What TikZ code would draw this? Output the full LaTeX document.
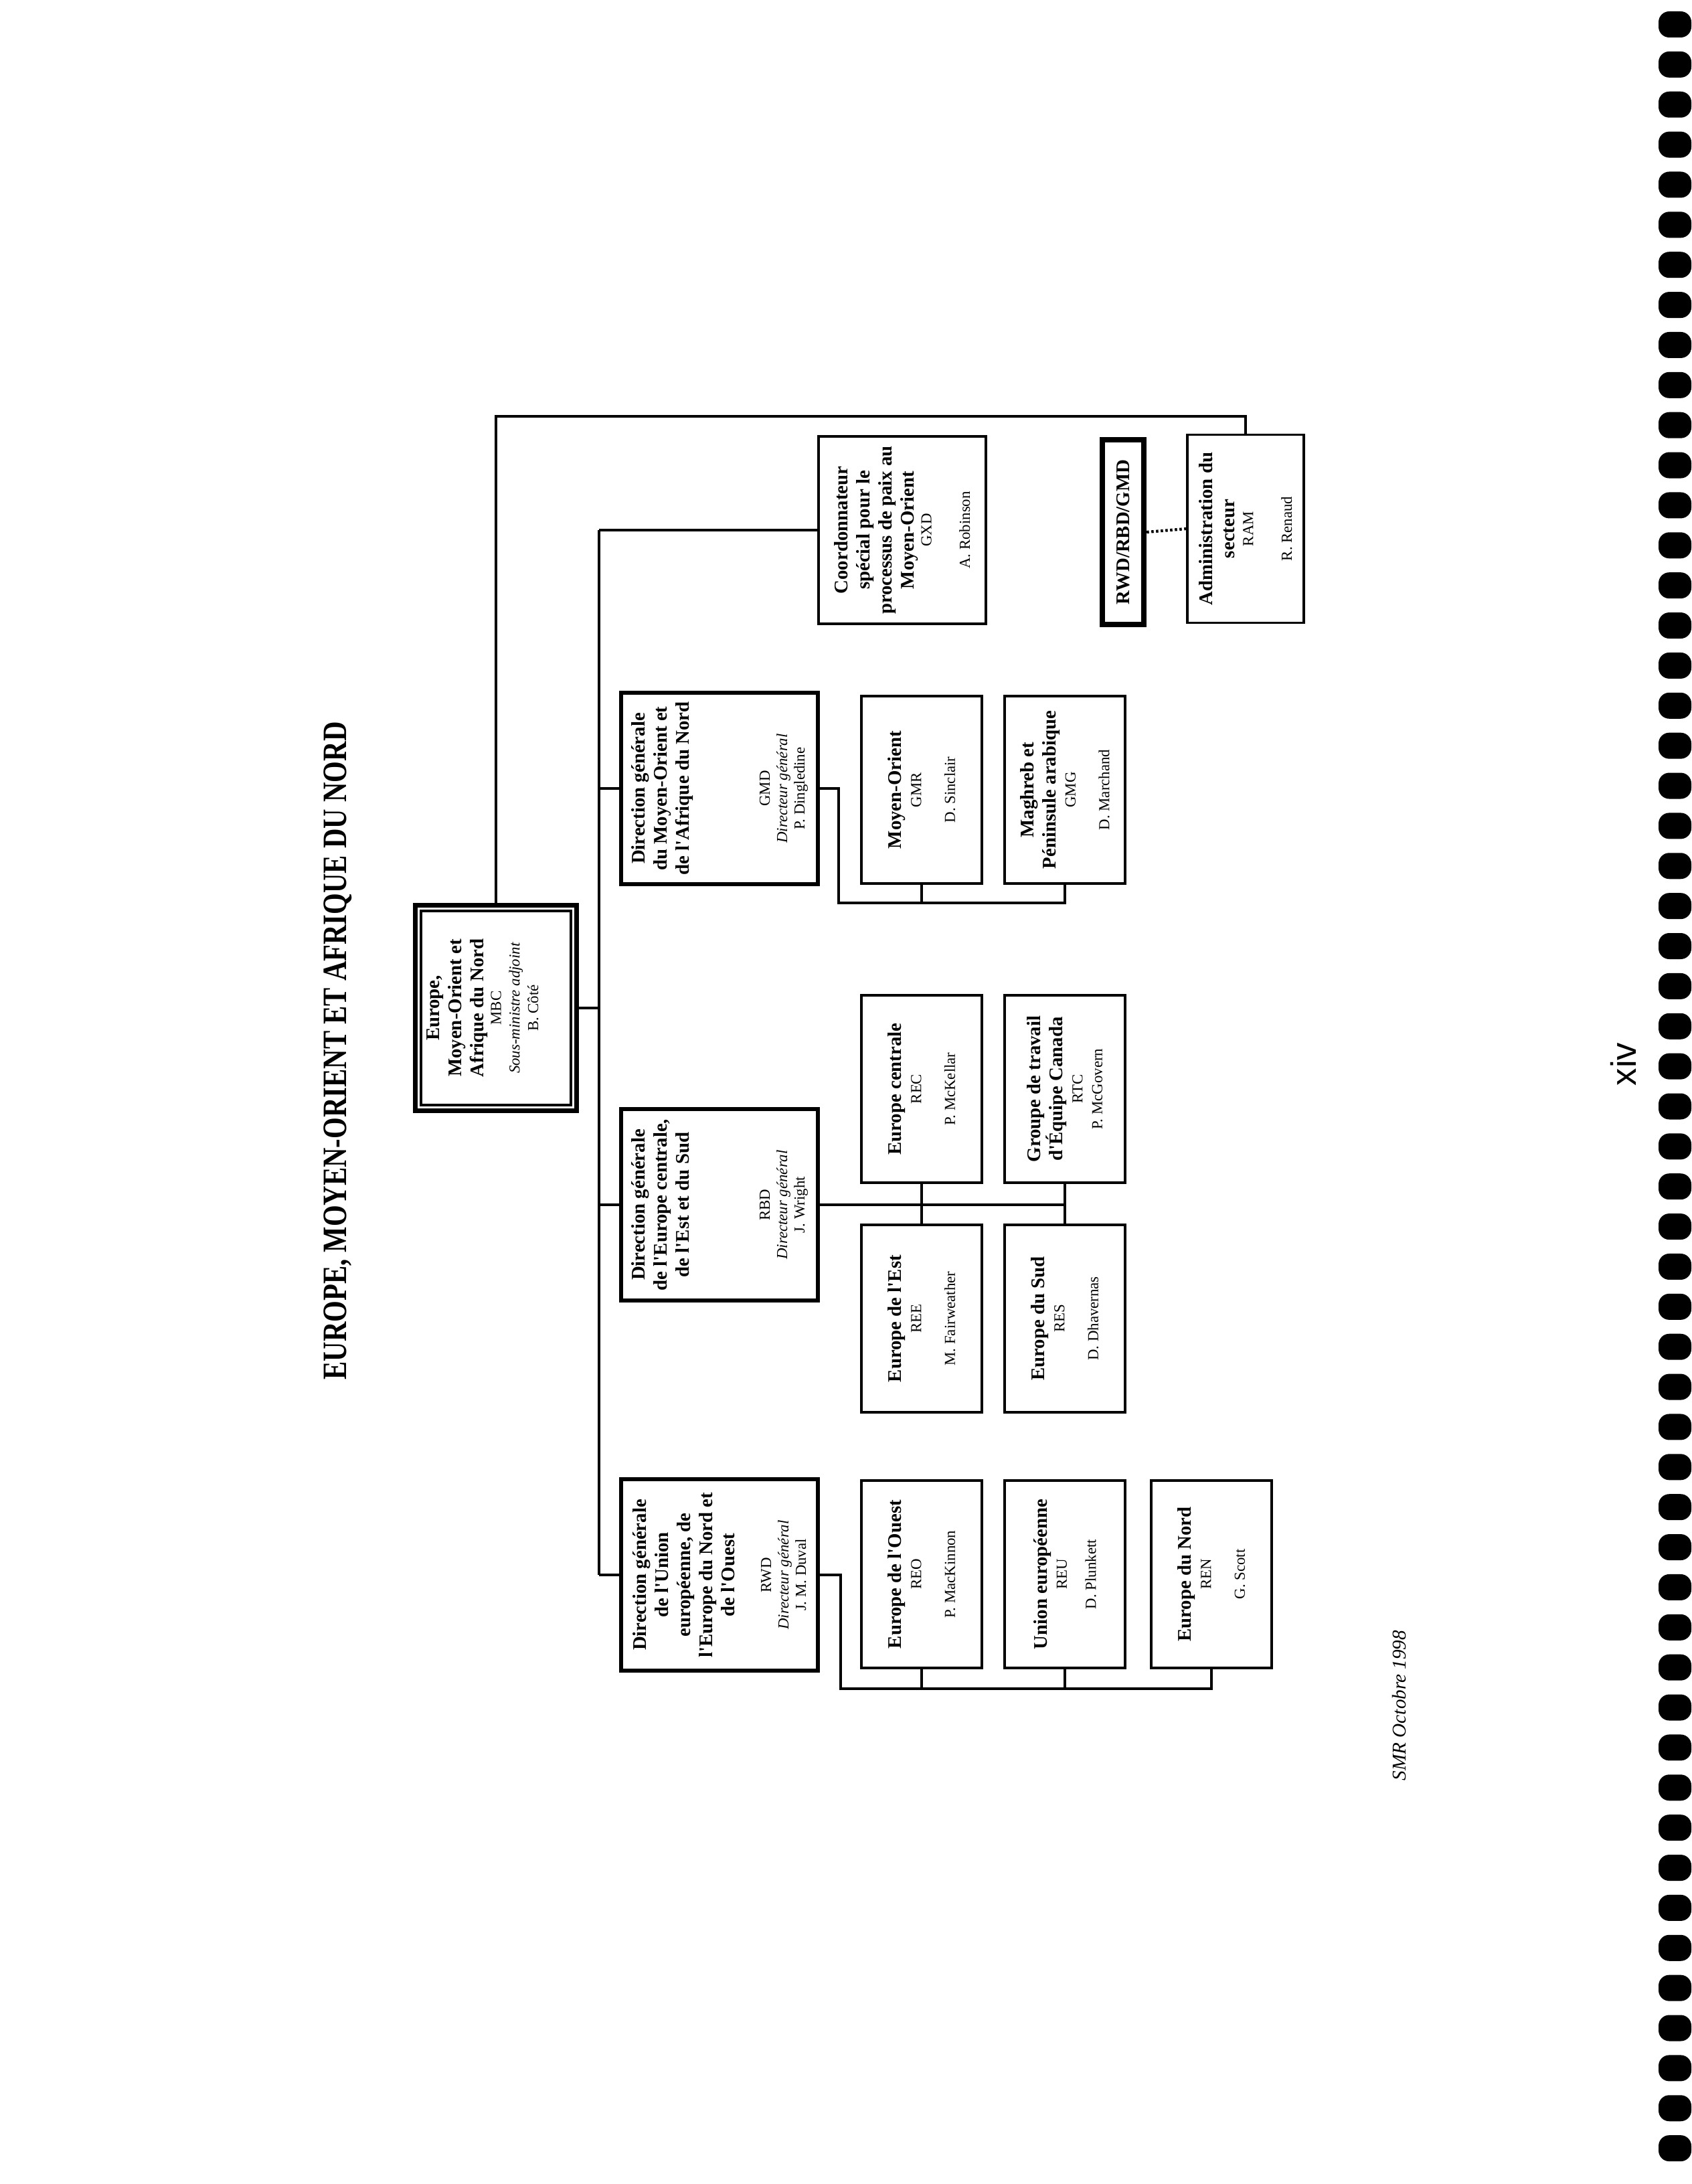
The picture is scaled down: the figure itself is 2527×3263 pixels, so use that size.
\documentclass[tikz,border=0pt]{standalone}
\usepackage{graphicx}
\usepackage{fontspec}
\setmainfont{Liberation Serif}
\newfontfamily\pagefont{Liberation Sans}
\usetikzlibrary{fit}
\newcommand{\sm}[1]{{\fontsize{6.5}{7.5}\selectfont #1}}
\newcommand{\ap}{\textquotesingle}
\begin{document}
\begin{tikzpicture}[x=0.1mm, y=-0.1mm,
    every node/.style={font=\fontsize{8.2}{9.4}\selectfont},
    box/.style={draw, rotate=90, align=center, inner sep=0pt},
    unit/.style={box, line width=1.1pt, minimum width=79.7pt, minimum height=51.2pt},
    dg/.style={box, line width=1.7pt, minimum width=81.5pt, minimum height=83.9pt},
    link/.style={line width=1pt}]
  \useasboundingbox (0,0) rectangle (2527,3263);
  \node[rotate=90, font=\fontsize{14.5}{16}\selectfont\bfseries] (title) at (505,1570)
    {\scalebox{0.8}[1]{EUROPE, MOYEN-ORIENT ET AFRIQUE DU NORD}};
  \node[box, line width=0.9pt, minimum width=82.5pt, minimum height=63.7pt] (mbc) at (741,1506)
    {\textbf{Europe,}\\ \textbf{Moyen-Orient et}\\ \textbf{Afrique du Nord}\\[-2pt]
     \sm{MBC}\\[-1.5pt] \sm{\textit{Sous-ministre adjoint}}\\[-1.5pt] \sm{B. Côté}\\[2pt] \mbox{}};
  \node[fit=(mbc), draw, line width=1.8pt, inner sep=2pt] (mbcf) {};
  \node[dg] (gmd) at (1075,1178)
    {\textbf{Direction générale}\\ \textbf{du Moyen-Orient et}\\ \textbf{de l\ap Afrique du Nord}\\[25pt]
     \sm{GMD}\\[-2pt] \sm{\textit{Directeur général}}\\[-2pt] \sm{P. Dingledine}};
  \node[dg] (rbd) at (1075,1800)
    {\textbf{Direction générale}\\ \textbf{de l\ap Europe centrale,}\\ \textbf{de l\ap Est et du Sud}\\[25pt]
     \sm{RBD}\\[-2pt] \sm{\textit{Directeur général}}\\[-2pt] \sm{J. Wright}};
  \node[dg] (rwd) at (1075,2353)
    {\textbf{Direction générale}\\ \textbf{de l\ap Union}\\ \textbf{européenne, de}\\ \textbf{l\ap Europe du Nord et}\\ \textbf{de l\ap Ouest}\\[6pt]
     \sm{RWD}\\[-2pt] \sm{\textit{Directeur général}}\\[-2pt] \sm{J. M. Duval}};
  \node[box, line width=1pt, minimum width=79.7pt, minimum height=71.1pt] (gxd) at (1348,792)
    {\textbf{Coordonnateur}\\ \textbf{spécial pour le}\\ \textbf{processus de paix au}\\ \textbf{Moyen-Orient}\\[-2pt]
     \sm{GXD}\\[7pt] \sm{A. Robinson}};
  \node[box, line width=2.4pt, minimum width=78.5pt, minimum height=17.6pt] (grp) at (1678,795)
    {\textbf{RWD/RBD/GMD}};
  \node[box, line width=1pt, minimum width=80pt, minimum height=49.5pt] (ram) at (1861,790)
    {\textbf{Administration du}\\ \textbf{secteur}\\[-1.5pt] \sm{RAM}\\[7pt] \sm{R. Renaud}};
  \node[unit] (gmr) at (1377,1180) {\textbf{Moyen-Orient}\\[-1pt] \sm{GMR}\\[5pt] \sm{D. Sinclair}};
  \node[unit] (gmg) at (1591,1180) {\textbf{Maghreb et}\\ \textbf{Péninsule arabique}\\[-1pt] \sm{GMG}\\[5pt] \sm{D. Marchand}};
  \node[unit] (rec) at (1377,1627) {\textbf{Europe centrale}\\[-1pt] \sm{REC}\\[5pt] \sm{P. McKellar}};
  \node[unit] (rtc) at (1591,1627) {\textbf{Groupe de travail}\\ \textbf{d\ap Équipe Canada}\\[-1pt] \sm{RTC}\\[-1pt] \sm{P. McGovern}};
  \node[unit] (ree) at (1377,1970) {\textbf{Europe de l\ap Est}\\[-1pt] \sm{REE}\\[5pt] \sm{M. Fairweather}};
  \node[unit] (res) at (1591,1970) {\textbf{Europe du Sud}\\[-1pt] \sm{RES}\\[5pt] \sm{D. Dhavernas}};
  \node[unit] (reo) at (1377,2352) {\textbf{Europe de l\ap Ouest}\\[-1pt] \sm{REO}\\[5pt] \sm{P. MacKinnon}};
  \node[unit] (reu) at (1591,2352) {\textbf{Union européenne}\\[-1pt] \sm{REU}\\[3pt] \sm{D. Plunkett}};
  \node[unit] (ren) at (1810,2352) {\textbf{Europe du Nord}\\[-1pt] \sm{REN}\\[5pt] \sm{G. Scott}};
  \node[rotate=90, font=\fontsize{8.3}{10}\selectfont\itshape] (date) at (2090,2548) {SMR Octobre 1998};
  \node[rotate=90, font=\pagefont\fontsize{15}{18}\selectfont] (page) at (2425,1590) {xiv};
  \coordinate (trunk) at (895,0);
  \coordinate (topbar) at (0,622);
  \coordinate (gmbus) at (1253,1349);
  \coordinate (rwbus) at (1256,2523);
  \begin{scope}[link]
    \draw (mbcf.north) -- (mbcf.north |- topbar) -| (ram.east);
    \draw (mbcf.east) -- (mbcf.east -| trunk);
    \draw (gxd.north -| trunk) -- (rwd.north -| trunk);
    \foreach \n in {gxd,gmd,rbd,rwd}
      \draw (\n.north) -- (\n.north -| trunk);
    \draw (gmd.south) -| (gmbus) -| (gmg.west);
    \draw (gmr.west) -- (gmr.west |- gmbus);
    \draw (rbd.south) -- (rbd.south -| rtc.west);
    \draw (rec.west) -- (ree.east);
    \draw (rtc.west) -- (res.east);
    \draw (rwd.south) -| (rwbus) -| (ren.west);
    \foreach \n in {reo,reu}
      \draw (\n.west) -- (\n.west |- rwbus);
    \draw[line width=1.2pt, dash pattern=on 1pt off 1pt] (grp.south) -- (ram.north);
  \end{scope}
  \foreach \k in {0,...,53}
    \fill[rounded corners=1.6mm] (2478,{17+59.87*\k}) rectangle ++(49,39);
\end{tikzpicture}
\end{document}
